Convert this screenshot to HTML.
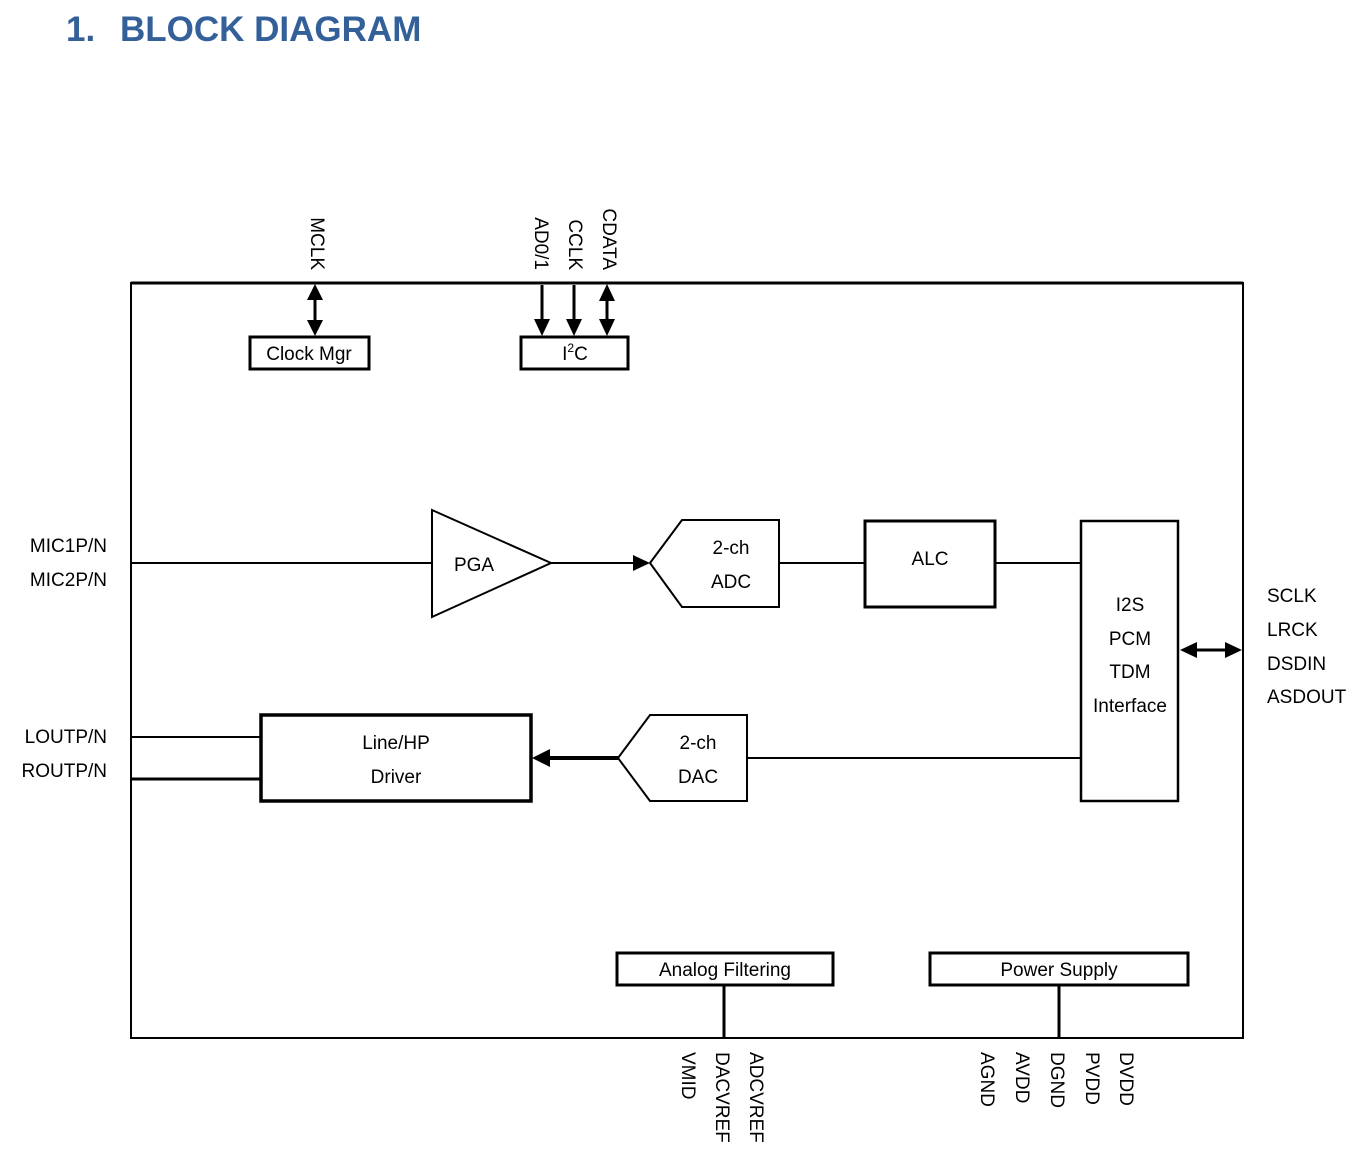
<!DOCTYPE html>
<html><head><meta charset="utf-8"><style>
html,body{margin:0;padding:0;background:#fff;}
svg{display:block;}
text{font-family:"Liberation Sans",sans-serif;font-size:19px;fill:#000;}
</style></head><body>
<svg width="1360" height="1161" viewBox="0 0 1360 1161" xmlns="http://www.w3.org/2000/svg">
<text x="66" y="41" style="font-size:35px;font-weight:bold;fill:#34609a">1.</text>
<text x="120" y="41" style="font-size:35px;font-weight:bold;fill:#34609a">BLOCK DIAGRAM</text>

<!-- outer box -->
<line x1="131" y1="283" x2="1243" y2="283" stroke="#000" stroke-width="3"/>
<line x1="131" y1="282" x2="131" y2="1039" stroke="#000" stroke-width="2"/>
<line x1="1243" y1="282" x2="1243" y2="1039" stroke="#000" stroke-width="2"/>
<line x1="131" y1="1038" x2="1243" y2="1038" stroke="#000" stroke-width="2"/>

<!-- top labels -->
<g transform="translate(311,270) rotate(90)"><text text-anchor="end">MCLK</text></g>
<g transform="translate(535,270) rotate(90)"><text text-anchor="end">AD0/1</text></g>
<g transform="translate(569,270) rotate(90)"><text text-anchor="end">CCLK</text></g>
<g transform="translate(603,270) rotate(90)"><text text-anchor="end">CDATA</text></g>

<g stroke="#000" stroke-width="3" fill="none">
<line x1="315" y1="295" x2="315" y2="325"/>
<line x1="542" y1="285" x2="542" y2="322"/>
<line x1="574" y1="285" x2="574" y2="322"/>
<line x1="607" y1="297" x2="607" y2="322"/>
<rect x="250" y="337" width="119" height="32"/>
<rect x="521" y="337" width="107" height="32"/>
</g>
<g fill="#000">
<polygon points="315,284 307,300 323,300"/>
<polygon points="315,336 307,320 323,320"/>
<polygon points="542,336 534,319 550,319"/>
<polygon points="574,336 566,319 582,319"/>
<polygon points="607,284 599,301 615,301"/>
<polygon points="607,336 599,319 615,319"/>
<polygon points="650,563 633,555 633,571"/>
<polygon points="532,758 550,749 550,767"/>
<polygon points="1180,650 1197,642 1197,658"/>
<polygon points="1242,650 1225,642 1225,658"/>
</g>
<text x="309" y="360" text-anchor="middle">Clock Mgr</text>
<text x="575" y="360" text-anchor="middle">I<tspan dy="-8" style="font-size:12px">2</tspan><tspan dy="8">C</tspan></text>

<!-- left labels -->
<text x="107" y="552" text-anchor="end">MIC1P/N</text>
<text x="107" y="586" text-anchor="end">MIC2P/N</text>
<text x="107" y="743" text-anchor="end">LOUTP/N</text>
<text x="107" y="777" text-anchor="end">ROUTP/N</text>
<!-- right labels -->
<text x="1267" y="602">SCLK</text>
<text x="1267" y="636">LRCK</text>
<text x="1267" y="670">DSDIN</text>
<text x="1267" y="703">ASDOUT</text>

<g stroke="#000" fill="none">
<line x1="131" y1="563" x2="432" y2="563" stroke-width="2"/>
<polygon points="432,510 432,617 551,563" stroke-width="2"/>
<line x1="551" y1="563" x2="636" y2="563" stroke-width="2"/>
<polygon points="650,563 682,520 779,520 779,607 682,607" stroke-width="2"/>
<line x1="779" y1="563" x2="865" y2="563" stroke-width="2"/>
<rect x="865" y="521" width="130" height="86" stroke-width="3"/>
<line x1="995" y1="563" x2="1081" y2="563" stroke-width="2"/>
<rect x="1081" y="521" width="97" height="280" stroke-width="2.5"/>
<line x1="1195" y1="650" x2="1228" y2="650" stroke-width="3"/>
<polygon points="618,758 650,715 747,715 747,801 650,801" stroke-width="2"/>
<line x1="747" y1="758" x2="1081" y2="758" stroke-width="2"/>
<line x1="618" y1="758" x2="548" y2="758" stroke-width="4"/>
<rect x="261" y="715" width="270" height="86" stroke-width="3.5"/>
<line x1="131" y1="737" x2="261" y2="737" stroke-width="2"/>
<line x1="131" y1="779" x2="261" y2="779" stroke-width="3"/>
<rect x="617" y="953" width="216" height="32" stroke-width="3"/>
<rect x="930" y="953" width="258" height="32" stroke-width="3"/>
<line x1="724" y1="985" x2="724" y2="1038" stroke-width="3"/>
<line x1="1059" y1="985" x2="1059" y2="1038" stroke-width="3"/>
</g>
<text x="474" y="571" text-anchor="middle">PGA</text>
<text x="731" y="554" text-anchor="middle">2-ch</text>
<text x="731" y="588" text-anchor="middle">ADC</text>
<text x="930" y="565" text-anchor="middle">ALC</text>
<text x="1130" y="611" text-anchor="middle">I2S</text>
<text x="1130" y="645" text-anchor="middle">PCM</text>
<text x="1130" y="678" text-anchor="middle">TDM</text>
<text x="1130" y="712" text-anchor="middle">Interface</text>
<text x="698" y="749" text-anchor="middle">2-ch</text>
<text x="698" y="783" text-anchor="middle">DAC</text>
<text x="396" y="749" text-anchor="middle">Line/HP</text>
<text x="396" y="783" text-anchor="middle">Driver</text>
<text x="725" y="976" text-anchor="middle">Analog Filtering</text>
<text x="1059" y="976" text-anchor="middle">Power Supply</text>

<!-- bottom labels -->
<g transform="translate(682,1052) rotate(90)"><text>VMID</text></g>
<g transform="translate(716,1052) rotate(90)"><text>DACVREF</text></g>
<g transform="translate(750,1052) rotate(90)"><text>ADCVREF</text></g>
<g transform="translate(981,1052) rotate(90)"><text>AGND</text></g>
<g transform="translate(1016,1052) rotate(90)"><text>AVDD</text></g>
<g transform="translate(1051,1052) rotate(90)"><text>DGND</text></g>
<g transform="translate(1086,1052) rotate(90)"><text>PVDD</text></g>
<g transform="translate(1120,1052) rotate(90)"><text>DVDD</text></g>
</svg>
</body></html>
